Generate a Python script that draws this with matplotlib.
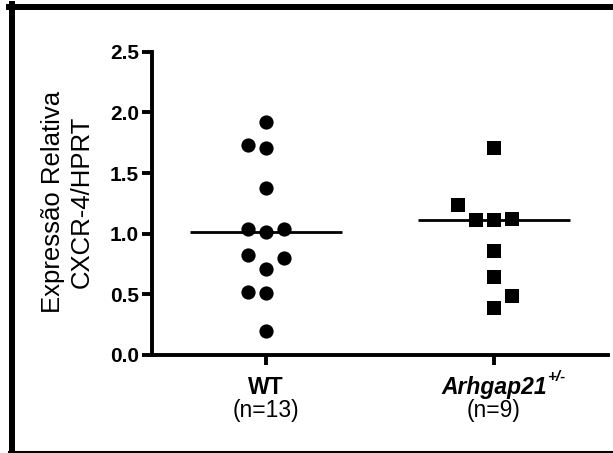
import numpy as np
import matplotlib.pyplot as plt
from matplotlib.lines import Line2D

# values, in entry order (order drives the column layout)
groups = ['WT', 'Arhgap21']
wt_values = [1.92, 1.71, 1.735, 1.373, 1.01, 1.035, 0.515, 0.52, 0.708, 0.80, 0.824, 1.035, 0.20]
arhgap_values = [1.71, 1.112, 1.112, 1.12, 1.236, 0.86, 0.645, 0.385, 0.486]
group_values = [wt_values, arhgap_values]
group_markers = ['o', 's']
group_styles = ['normal', 'italic']
group_superscripts = ['', '+/-']
y_ticks = [0.0, 0.5, 1.0, 1.5, 2.0, 2.5]
y_label = 'Expressão Relativa\nCXCR-4/HPRT'

W, H = 613, 453
plt.rcParams['font.family'] = ['Liberation Sans', 'DejaVu Sans']


def swarm_slots(values, min_gap=0.13):
    # greedy column scatter: keep a point on the centre if there is room,
    # otherwise push it aside, alternating the preferred side each time
    placed = []
    side = -1
    for v in values:
        candidates = [0]
        for step in range(1, 5):
            candidates += [side * step, -side * step]
        for c in candidates:
            if all(abs(v - pv) >= min_gap for pc, pv in placed if pc == c):
                break
        placed.append((c, v))
        if c != 0:
            side = -side
    return np.array([c for c, v in placed])


fig = plt.figure(figsize=(W / 100, H / 100), dpi=100)
ax = fig.add_axes([152 / W, 98 / H, 456 / W, 303.3 / H])

slot_width = 0.08
for i, vals in enumerate(group_values):
    xs = i + swarm_slots(vals) * slot_width
    ms = 105 if group_markers[i] == 'o' else 92
    ax.scatter(xs, vals, s=ms, marker=group_markers[i], color='black',
               linewidths=0, zorder=3)
    ax.hlines(np.median(vals), i - 1 / 3, i + 1 / 3, color='black', lw=2, zorder=2)

ax.set_xlim(-0.5, 1.5)
ax.set_ylim(0, 2.5)

for side in ['top', 'right']:
    ax.spines[side].set_visible(False)
for side in ['left', 'bottom']:
    ax.spines[side].set_linewidth(2.8)

ax.set_yticks(y_ticks)
ax.set_yticklabels(['%.1f' % t for t in y_ticks], fontweight='bold', fontsize=15)
ax.tick_params(axis='y', length=7.5, width=2.8, pad=2)
ax.set_xticks(range(len(groups)))
ax.set_xticklabels([])
ax.tick_params(axis='x', length=7, width=2.8)

for i, name in enumerate(groups):
    t = ax.annotate(name, xy=(i, 0), xycoords=('data', 'axes fraction'),
                    xytext=(0, -15), textcoords='offset points',
                    ha='center', va='top', fontsize=16.5, fontweight='bold',
                    fontstyle=group_styles[i])
    if group_superscripts[i]:
        ax.annotate(group_superscripts[i], xy=(1, 1), xycoords=t,
                    xytext=(0, -1), textcoords='offset points',
                    ha='left', va='center', fontsize=11, fontweight='bold',
                    fontstyle='italic')
    ax.annotate('(n=%d)' % len(group_values[i]), xy=(i, 0),
                xycoords=('data', 'axes fraction'),
                xytext=(0, -32), textcoords='offset points',
                ha='center', va='top', fontsize=16.5)

fig.text(67 / W, 1 - 202 / H, y_label, rotation=90, ha='center', va='center',
         multialignment='center', fontsize=18.5, linespacing=1.25)

# thick frame around the pasted figure (right edge is cropped off)
fig.add_artist(Line2D([12 / W, 12 / W], [0, 1 - 4 / H], transform=fig.transFigure,
                      color='black', lw=4.3))
fig.add_artist(Line2D([9 / W, 1], [1 - 7 / H, 1 - 7 / H], transform=fig.transFigure,
                      color='black', lw=4.3))
fig.add_artist(Line2D([9 / W, 1], [1.5 / H, 1.5 / H], transform=fig.transFigure,
                      color='black', lw=2.2))

fig.savefig('out.png', dpi=100)
